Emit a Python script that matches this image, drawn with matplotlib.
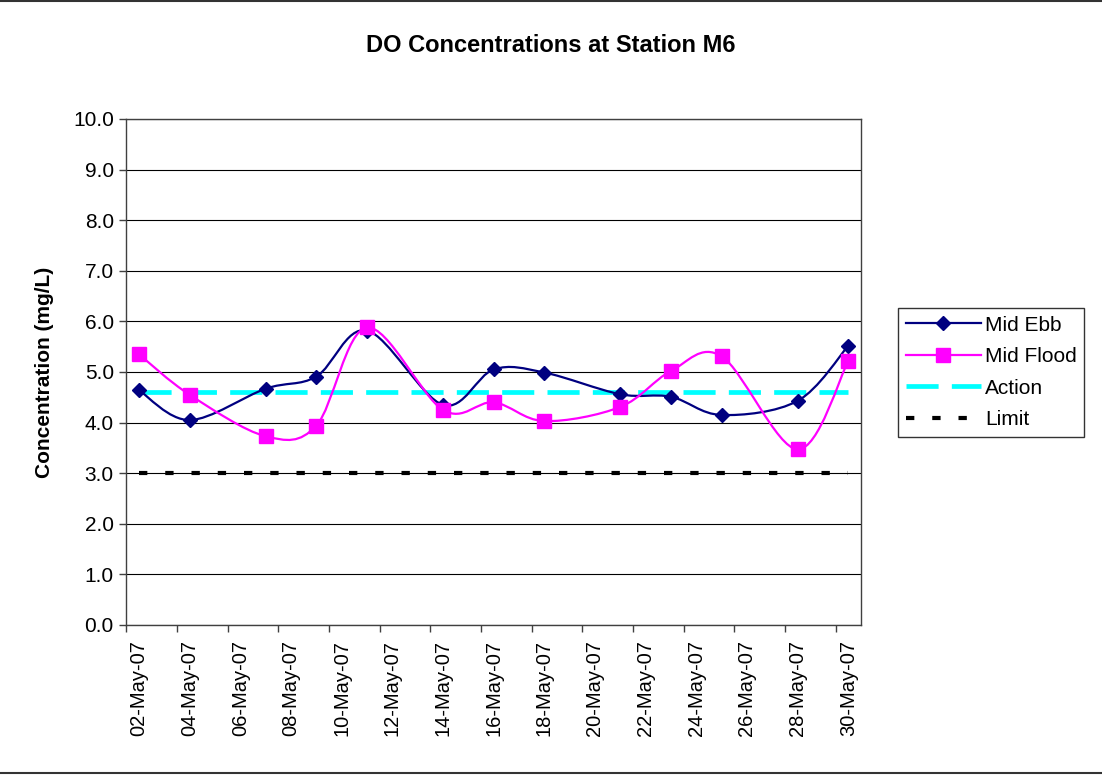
import matplotlib
matplotlib.use("Agg")
import matplotlib.pyplot as plt
import matplotlib.dates as mdates
from matplotlib.path import Path
from matplotlib.patches import PathPatch
from matplotlib.lines import Line2D
import numpy as np
from datetime import datetime, timedelta

plt.rcParams['font.family'] = ['Liberation Sans', 'DejaVu Sans']

# ---- data ----
sample_days = [2, 4, 7, 9, 11, 14, 16, 18, 21, 23, 25, 28, 30]
mid_ebb = [4.64, 4.05, 4.67, 4.91, 5.82, 4.35, 5.05, 4.99, 4.56, 4.51, 4.15, 4.43, 5.52]
mid_flood = [5.35, 4.55, 3.73, 3.94, 5.88, 4.25, 4.40, 4.03, 4.31, 5.02, 5.31, 3.47, 5.22]
action_level = 4.6
limit_level = 3.0
series_names = ["Mid Ebb", "Mid Flood", "Action", "Limit"]
y_ticks = [0.0, 1.0, 2.0, 3.0, 4.0, 5.0, 6.0, 7.0, 8.0, 9.0, 10.0]
tick_days = list(range(2, 31, 2))

# Excel date axis: points and labels placed in the middle of each day slot
half_day = timedelta(hours=12)
dates = [datetime(2007, 5, d) + half_day for d in sample_days]
xnum = mdates.date2num(dates)

NAVY = "#000080"
MAGENTA = "#FF00FF"
CYAN = "#00FFFF"

fig = plt.figure(figsize=(11.02, 7.75), dpi=100)
ax = fig.add_axes([126.3 / 1102, 1 - 625 / 775, (861 - 126.3) / 1102, (625 - 119) / 775])


def smooth_path(xs, ys):
    pts = np.column_stack([xs, ys])
    n = len(pts)
    verts = [pts[0]]
    codes = [Path.MOVETO]
    for i in range(n - 1):
        p0 = pts[i - 1] if i > 0 else pts[i]
        p1 = pts[i]
        p2 = pts[i + 1]
        p3 = pts[i + 2] if i + 2 < n else pts[i + 1]
        c1 = p1 + (p2 - p0) / 6.0
        c2 = p2 - (p3 - p1) / 6.0
        verts += [c1, c2, p2]
        codes += [Path.CURVE4] * 3
    return Path(verts, codes)


# gridlines
ax.set_yticks(y_ticks)
ax.yaxis.grid(True, color="black", lw=0.8)
ax.set_axisbelow(True)

# action / limit lines
ax.plot([xnum[0], xnum[-1]], [action_level] * 2, color=CYAN, lw=3.4,
        dashes=(6.8, 2.8), solid_capstyle="butt", dash_capstyle="butt", zorder=2)
ax.plot([xnum[0], xnum[-1]], [limit_level] * 2, color="black", lw=3.0,
        dashes=(2.0, 4.3), dash_capstyle="butt", zorder=2)

# smoothed series lines
ax.add_patch(PathPatch(smooth_path(xnum, mid_ebb), fill=False, edgecolor=NAVY, lw=1.6, zorder=3))
ax.add_patch(PathPatch(smooth_path(xnum, mid_flood), fill=False, edgecolor=MAGENTA, lw=1.6, zorder=3))
ax.plot(xnum, mid_ebb, ls="none", marker="D", ms=6.8, color=NAVY, zorder=4)
ax.plot(xnum, mid_flood, ls="none", marker="s", ms=9.5, color=MAGENTA, zorder=5)

ax.set_ylim(0, 10)
ax.set_xlim(mdates.date2num(datetime(2007, 5, 2)), mdates.date2num(datetime(2007, 5, 31)))
# tick marks at day boundaries, labels centred in the day slot
ax.set_xticks([mdates.date2num(datetime(2007, 5, d)) for d in tick_days], minor=True)
ax.set_xticks([mdates.date2num(datetime(2007, 5, d) + half_day) for d in tick_days])
ax.xaxis.set_major_formatter(mdates.DateFormatter("%d-%b-%y"))
ax.yaxis.set_major_formatter(matplotlib.ticker.FormatStrFormatter("%.1f"))
ax.tick_params(axis="x", which="major", rotation=90, labelsize=14.5, length=0, pad=11)
ax.tick_params(axis="x", which="minor", length=5, width=1, color="#404040")
ax.tick_params(axis="y", labelsize=15, length=5, width=1, pad=4, color="#404040")
for s in ax.spines.values():
    s.set_color("#404040")
    s.set_linewidth(1.0)

# title & y label
fig.text(0.5, 1 - 45 / 775, "DO Concentrations at Station M6", ha="center", va="center",
         fontsize=17, fontweight="bold")
fig.text(45 / 1102, 1 - 372 / 775, "Concentration (mg/L)", ha="center", va="center",
         rotation=90, fontsize=15, fontweight="bold")

# legend
handles = [
    Line2D([], [], color=NAVY, lw=1.6, marker="D", ms=6.8),
    Line2D([], [], color=MAGENTA, lw=1.6, marker="s", ms=9.5),
    Line2D([], [], color=CYAN, lw=3.4, dashes=(6.8, 2.8)),
    Line2D([], [], color="black", lw=3.0, dashes=(2.0, 4.3)),
]
leg = fig.legend(handles, series_names, loc="upper left",
                 bbox_to_anchor=(898 / 1102, 1 - 308 / 775), fontsize=15,
                 frameon=True, fancybox=False, shadow=False, handlelength=3.6,
                 handletextpad=0.22, labelspacing=0.6, borderpad=0.36, borderaxespad=0)
leg.get_frame().set_edgecolor("black")
leg.get_frame().set_linewidth(1.0)

# chart area border lines (top and bottom)
fig.add_artist(Line2D([0, 1], [1 - 1 / 775, 1 - 1 / 775], transform=fig.transFigure, color="#333333", lw=1.5))
fig.add_artist(Line2D([0, 1], [1 - 773 / 775, 1 - 773 / 775], transform=fig.transFigure, color="#333333", lw=1.5))

fig.savefig("out.png", dpi=100)
